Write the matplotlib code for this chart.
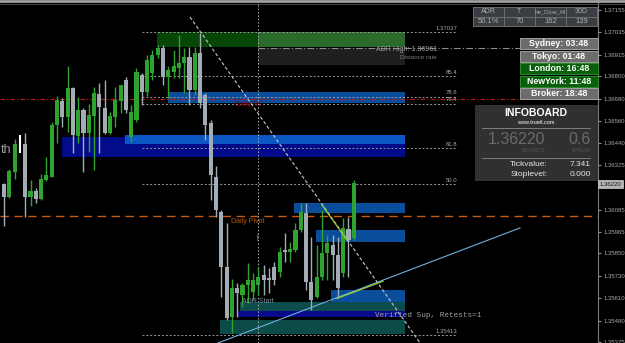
import numpy as np
import matplotlib.pyplot as plt
from matplotlib.patches import Rectangle
from matplotlib.transforms import blended_transform_factory

plt.rcParams['font.family'] = ['Liberation Sans', 'DejaVu Sans']

nan = float('nan')

# OHLC, one entry per bar (bar 3 is hidden behind a marker)
opens = [1.36222, 1.36153, 1.36287, nan, 1.36437, 1.36153, 1.36185, 1.36142, 1.36244, 1.36260,
         1.36539, 1.36667, 1.36582, 1.36737, 1.36480, 1.36619, 1.36496, 1.36587, 1.36705, 1.36630,
         1.36496, 1.36582, 1.36667, 1.36780, 1.36474, 1.36565, 1.36807, 1.36716, 1.36817, 1.36914,
         1.36951, 1.36796, 1.36823, 1.36844, 1.36871, 1.36903, 1.36726, 1.36925, 1.36699, 1.36549,
         1.36260, 1.36072, 1.35778, 1.35510, 1.35665, 1.35627, 1.35681, 1.35644, 1.35681, 1.35735,
         1.35719, 1.35778, 1.35751, 1.35869, 1.35858, 1.35869, 1.35976, 1.36067, 1.35697, 1.35617,
         1.35724, 1.35853, 1.35895, 1.35842, 1.35745, 1.35981, 1.35933]
highs = [1.36228, 1.36303, 1.36464, nan, 1.36496, 1.36244, 1.36201, 1.36276, 1.36367, 1.36555,
         1.36694, 1.36683, 1.36855, 1.36742, 1.36689, 1.36630, 1.36651, 1.36742, 1.36764, 1.36780,
         1.36608, 1.36742, 1.36753, 1.36796, 1.36646, 1.36844, 1.36817, 1.36914, 1.36941, 1.36967,
         1.36967, 1.36855, 1.36941, 1.37021, 1.36951, 1.36957, 1.36957, 1.37032, 1.36710, 1.36565,
         1.36319, 1.36083, 1.36013, 1.35713, 1.35692, 1.35692, 1.35799, 1.35745, 1.35778, 1.35788,
         1.35772, 1.35804, 1.35885, 1.35960, 1.35912, 1.36013, 1.36121, 1.36121, 1.35938, 1.35895,
         1.36083, 1.35949, 1.35949, 1.35938, 1.36040, 1.36046, 1.36244]
lows = [1.35997, 1.36147, 1.36249, nan, 1.36046, 1.36104, 1.36121, 1.36137, 1.36238, 1.36260,
        1.36442, 1.36528, 1.36501, 1.36389, 1.36442, 1.36287, 1.36394, 1.36297, 1.36389, 1.36490,
        1.36490, 1.36528, 1.36603, 1.36603, 1.36448, 1.36555, 1.36646, 1.36694, 1.36780, 1.36898,
        1.36753, 1.36683, 1.36791, 1.36791, 1.36710, 1.36646, 1.36699, 1.36630, 1.36458, 1.36137,
        1.36046, 1.35617, 1.35493, 1.35424, 1.35510, 1.35563, 1.35585, 1.35601, 1.35627, 1.35627,
        1.35638, 1.35681, 1.35724, 1.35804, 1.35804, 1.35858, 1.35965, 1.35654, 1.35547, 1.35611,
        1.35708, 1.35708, 1.35708, 1.35617, 1.35724, 1.35724, 1.35922]
closes = [1.36153, 1.36292, 1.36437, nan, 1.36153, 1.36185, 1.36142, 1.36249, 1.36271, 1.36539,
          1.36673, 1.36582, 1.36737, 1.36485, 1.36619, 1.36496, 1.36592, 1.36710, 1.36635, 1.36496,
          1.36587, 1.36673, 1.36753, 1.36619, 1.36608, 1.36823, 1.36716, 1.36887, 1.36914, 1.36951,
          1.36796, 1.36833, 1.36855, 1.36871, 1.36903, 1.36726, 1.36925, 1.36657, 1.36539, 1.36271,
          1.36083, 1.35778, 1.35504, 1.35665, 1.35638, 1.35681, 1.35708, 1.35708, 1.35724, 1.35708,
          1.35708, 1.35708, 1.35858, 1.35858, 1.35874, 1.35976, 1.36072, 1.35697, 1.35601, 1.35724,
          1.35853, 1.35906, 1.35842, 1.35665, 1.35987, 1.35922, 1.36228]

axis_ticks = [1.37155, 1.37035, 1.36915, 1.36800, 1.36680, 1.36560, 1.36440, 1.36325,
              1.36085, 1.35965, 1.35850, 1.35730, 1.35610, 1.35490, 1.35375]
bid_price = 1.36220

# fibo levels
fib_prices = [1.37037, 1.36800, 1.36690, 1.36654, 1.36415, 1.36222, 1.35413]
fib_labels = ['1.37037', '85.4', '78.6', '76.4', '61.8', '50.0', '1.35413']

# supply / demand zones: start bar, low, high
zone_start = [28.9, 47.9, 30.9, 10.9, 22.8, 54.7, 58.9, 61.7, 44.5, 44.0, 40.75]
zone_low = [1.36957, 1.36860, 1.36657, 1.36367, 1.36437, 1.36067, 1.35912, 1.35590, 1.35542, 1.35510, 1.35418]
zone_high = [1.37037, 1.36951, 1.36716, 1.36474, 1.36485, 1.36121, 1.35976, 1.35654, 1.35590, 1.35542, 1.35493]
zone_colors = ['#064606', '#1f1f1f', '#0a4d9a', '#020c8a', '#0b57c4', '#0a4d9a', '#0a4d9a',
               '#0a4d9a', '#0c4c4c', '#0a0a8c', '#0c4c48']
zone_end = 75.66
green_split = 47.9

pivot = 1.36051
r1 = 1.36678
adr_high = 1.36951
day_start = 47.9

down_x, down_y = [35.09, 78.49], [1.37118, 1.35371]
up_x, up_y = [40.38, 97.36], [1.35370, 1.35987]

sessions = ['Sydney: 03:48', 'Tokyo: 01:48', 'London: 16:48', 'NewYork: 11:48', 'Broker: 18:48']
session_open = [False, False, True, True, False]
table_head = ['ADR', 'T', 'me_Close_All', '30D']
table_vals = ['50.1%', '70', '162', '139']

fig = plt.figure(figsize=(6.25, 3.43), dpi=100, facecolor='black')
ax = fig.add_axes([0, 0, 598 / 625, 1], facecolor='black')

# zones
for s, lo, hi, col in zip(zone_start, zone_low, zone_high, zone_colors):
    ax.add_patch(Rectangle((s, lo), zone_end - s, hi - lo, facecolor=col, lw=0, zorder=1))
ax.add_patch(Rectangle((green_split, zone_low[0]), zone_end - green_split, zone_high[0] - zone_low[0],
                       facecolor='#2a6a2a', lw=0, zorder=1))

# levels
ax.hlines(fib_prices, 26.04, 85.47, colors='#9a9a9a', linestyles=(0, (2, 2)), lw=0.7, zorder=2)
for p, lab in zip(fib_prices, fib_labels):
    ax.text(85.47, p + 0.00007, lab, color='#a8a8a8', fontsize=4.3, ha='right', va='bottom', zorder=6)
ax.plot([green_split, 97.4], [adr_high, adr_high], color='#8c8c8c', dashes=(6, 2, 1, 2), lw=0.8, zorder=2)
ax.axhline(r1, color='#c01818', dashes=(4, 2, 1, 2), lw=0.8, zorder=2)
ax.axhline(pivot, color='#c85a10', dashes=(6, 4), lw=1, zorder=2)
ax.axvline(day_start, color='#b0b0b0', ls=(0, (1.5, 2)), lw=0.7, zorder=2)

ax.plot(down_x, down_y, color='#c8c8c8', dashes=(3, 2), lw=0.8, zorder=5)
ax.plot(up_x, up_y, color='#6fb0e0', lw=0.8, zorder=5)
ax.plot([60.0, 64.72], [1.36110, 1.35922], color='#9acd32', lw=0.9, zorder=5)
ax.plot([62.83, 71.51], [1.35609, 1.35701], color='#9acd32', lw=0.9, zorder=5)

# candles
x = np.arange(len(opens))
o, h, l, c = (np.array(v) for v in (opens, highs, lows, closes))
ok = ~np.isnan(o)
cols = np.where(c > o, '#2ea32e', '#a3abb5')
ax.vlines(x[ok], l[ok], h[ok], colors=cols[ok], lw=1, zorder=3)
body = np.maximum(np.abs(c - o), 0.00003)
ax.bar(x[ok], body[ok], bottom=np.minimum(o, c)[ok], width=0.76, color=cols[ok], lw=0, zorder=4)
ax.vlines(3.02, 1.36389, 1.36485, colors='white', lw=1.5, zorder=5)

# chart labels
ax.text(-0.7, 1.36405, 'th', color='#9a9a9a', fontsize=9, ha='left', va='center')
ax.text(43.6, 1.36651, 'Daily R1', color='#8b0000', fontsize=5, va='center', zorder=6)
ax.text(42.8, 1.36024, 'Daily Pivot', color='#c05a0a', fontsize=5, va='center')
ax.text(44.9, 1.35595, 'ADR Start', color='#7f8fa0', fontsize=5, va='center', zorder=6)
ax.text(47.9, 1.35938, '[', color='#8aa0c0', fontsize=5, va='center', ha='center')
ax.text(70.0, 1.35515, 'Verified Sup, Retests=1', color='#a0a0a0', fontsize=5.5,
        family='Liberation Mono', va='center', zorder=6)
ax.text(81.7, 1.36943, 'ADR High: 1.36961', color='#a0a0a0', fontsize=5, ha='right', va='center')
ax.text(81.7, 1.36903, 'Distance rate', color='#7a7a7a', fontsize=4.5, ha='right', va='center')

ax.set_xlim(-0.755, 112.08)
ax.set_ylim(1.35370, 1.37209)
for side in ['top', 'left', 'bottom']:
    ax.spines[side].set_visible(False)
ax.spines['right'].set_color('#7a7a7a')
ax.set_xticks([])
ax.yaxis.tick_right()
ax.set_yticks(axis_ticks)
ax.set_yticklabels(['%.5f' % t for t in axis_ticks])
ax.tick_params(axis='y', colors='#909090', labelcolor='#a8a8a8', labelsize=4.3, length=2, pad=2)
tr = blended_transform_factory(ax.transAxes, ax.transData)
ax.text(1.003, bid_price, '%.5f' % bid_price, transform=tr, fontsize=4.3, color='#101010',
        va='center', ha='left', bbox=dict(boxstyle='square,pad=0.25', fc='#b4b4b4', ec='#d0d0d0', lw=0.5))

# panels drawn in pixel space
ui = fig.add_axes([0, 0, 1, 1])
ui.set_xlim(0, 625)
ui.set_ylim(343, 0)
ui.axis('off')
ui.patch.set_visible(False)
ui.axhline(1, color='#a0a0a0', lw=2)
ui.axhline(4, color='#505050', lw=0.6)

for j, (hd, val) in enumerate(zip(table_head, table_vals)):
    x0 = 473 + 31 * j
    for y0, txt, fs in [(7, hd, 5 if j != 2 else 3.6), (16.5, val, 5.5)]:
        ui.add_patch(Rectangle((x0, y0), 31, 9.5, facecolor='#3a3e42', edgecolor='#6c6c6c', lw=0.7))
        ui.text(x0 + 15.5, y0 + 4.9, txt, color='#a8aeb6', fontsize=fs, ha='center', va='center')

for j, (name, live) in enumerate(zip(sessions, session_open)):
    y0 = 38 + 12.5 * j
    ui.add_patch(Rectangle((520, y0), 78, 11, facecolor='#0a600a' if live else '#6c6c6c',
                           edgecolor='#2e8a2e' if live else '#a0a0a0', lw=0.7))
    ui.text(559, y0 + 5.7, name, color='white', fontsize=6.3, fontweight='bold', ha='center', va='center')

ui.add_patch(Rectangle((475, 105), 123, 76, facecolor='#303030', lw=0))
ui.text(536, 113, 'INFOBOARD', color='white', fontsize=7.5, fontweight='bold', ha='center', va='center')
ui.text(536, 122.5, 'www.truetl.com', color='white', fontsize=4, ha='center', va='center')
ui.plot([482, 590], [128, 128], color='#8a8a8a', lw=0.6)
ui.plot([482, 590], [158, 158], color='#8a8a8a', lw=0.6)
ui.text(545, 140, '%.5f' % bid_price, color='#6a6a6a', fontsize=11.5, ha='right', va='center')
ui.text(591, 140, '0.6', color='#6a6a6a', fontsize=11.5, ha='right', va='center')
ui.text(545, 151, 'BID PRICE', color='#555555', fontsize=3.3, ha='right', va='center')
ui.text(591, 151, 'SPREAD', color='#555555', fontsize=3.3, ha='right', va='center')
ui.text(548, 165, 'Tickvalue:', color='#e6e6e6', fontsize=6, ha='right', va='center')
ui.text(591, 165, '7.341', color='#e6e6e6', fontsize=6, ha='right', va='center')
ui.text(548, 174, 'Stoplevel:', color='#e6e6e6', fontsize=6, ha='right', va='center')
ui.text(591, 174, '0.000', color='#e6e6e6', fontsize=6, ha='right', va='center')

fig.savefig('out.png', dpi=100, facecolor='black')
